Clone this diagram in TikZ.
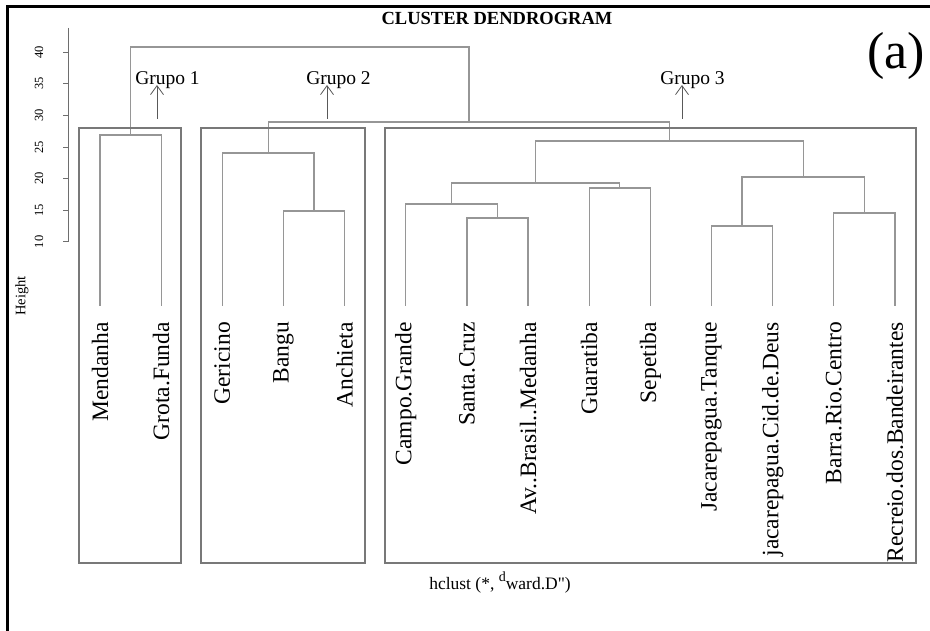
\documentclass[tikz,border=0pt]{standalone}
\usepackage{fontspec}
\setmainfont{Liberation Serif}[Ligatures=TeXOff]
\usetikzlibrary{arrows.meta}
\definecolor{dendro}{RGB}{150,150,150}
\definecolor{boxc}{RGB}{120,120,120}
\definecolor{axisc}{RGB}{110,110,110}
\begin{document}
\begin{tikzpicture}[x=1pt,y=-1pt,
  link/.style={draw=dendro,line width=1.3pt},
  grpbox/.style={draw=boxc,line width=1.3pt},
  axisline/.style={draw=axisc,line width=1pt},
  frameline/.style={draw=black,line width=3pt},
  leaflab/.style={rotate=90,anchor=east,inner sep=0pt,font=\fontsize{23.5}{24}\selectfont},
  ticklab/.style={rotate=90,inner sep=0pt,font=\fontsize{12.5}{13}\selectfont},
  grplab/.style={anchor=base,inner sep=0pt,font=\fontsize{19.5}{20}\selectfont},
  grparrow/.style={draw=black!65,line width=0.8pt,-{Straight Barb[length=9pt,width=13pt]}}]
\useasboundingbox (0,0) rectangle (930,631);
\fill[white] (0,0) rectangle (930,631);
% frame
\draw[frameline] (7,631) -- (7,7) -- (930,7);
% title
\node[inner sep=0pt,font=\fontsize{18.5}{19}\selectfont\bfseries] (title) at (497,18) {CLUSTER DENDROGRAM};
\node[anchor=base,inner sep=0pt,font=\fontsize{52}{52}\selectfont] (tag) at (896,69) {(a)};
% axis
\draw[axisline] (68,28) -- (68,242);
\foreach \h in {10,15,...,40}{
  \draw[axisline] (63,{242-(\h-10)*6.333}) -- (68,{242-(\h-10)*6.333});
  \node[ticklab] (tick\h) at (39,{242-(\h-10)*6.333}) {\h};
}
\node[ticklab,font=\fontsize{14.5}{15}\selectfont] (ylab) at (22,296) {Height};
% leaves
\foreach \i/\t in {0/Mendanha,1/Grota.Funda,2/Gericino,3/Bangu,4/Anchieta,5/Campo.Grande,6/Santa.Cruz,7/Av..Brasil..Medanha,8/Guaratiba,9/Sepetiba,10/Jacarepagua.Tanque,11/jacarepagua.Cid.de.Deus,12/Barra.Rio.Centro,13/Recreio.dos.Bandeirantes}{
  \coordinate (l\i) at ({100+61.15*\i},306);
  \node[leaflab] (lab\i) at ({100+61.15*\i},322) {\t};
}
% merge points
\coordinate (mA) at (130.6,135);
\coordinate (mBA) at (314.0,211);
\coordinate (mG2) at (268.2,153);
\coordinate (mSA) at (497.5,218);
\coordinate (mCS) at (451.7,204);
\coordinate (mGS) at (619.8,188);
\coordinate (mL) at (535.7,183);
\coordinate (mJ) at (742.1,226);
\coordinate (mBR) at (864.4,213);
\coordinate (mR) at (803.3,177);
\coordinate (mG3) at (669.5,141);
\coordinate (m23) at (468.9,122);
\coordinate (root) at (299.7,47);
% links
\draw[link] (l0) |- (mA) -| (l1);
\draw[link] (l3) |- (mBA) -| (l4);
\draw[link] (l2) |- (mG2) -| (mBA);
\draw[link] (l6) |- (mSA) -| (l7);
\draw[link] (l5) |- (mCS) -| (mSA);
\draw[link] (l8) |- (mGS) -| (l9);
\draw[link] (mCS) |- (mL) -| (mGS);
\draw[link] (l10) |- (mJ) -| (l11);
\draw[link] (l12) |- (mBR) -| (l13);
\draw[link] (mJ) |- (mR) -| (mBR);
\draw[link] (mL) |- (mG3) -| (mR);
\draw[link] (mG2) |- (m23) -| (mG3);
\draw[link] (mA) |- (root) -| (m23);
% group boxes
\draw[grpbox] (79,128) rectangle (181,563);
\draw[grpbox] (201,128) rectangle (365,563);
\draw[grpbox] (385,128) rectangle (916,563);
% group labels and arrows
\node[grplab] (g1) at (167.5,85) {Grupo 1};
\node[grplab] (g2) at (338.5,85) {Grupo 2};
\node[grplab] (g3) at (692.5,85) {Grupo 3};
\coordinate (g1s) at (157,119); \coordinate (g1e) at (157,85);
\coordinate (g2s) at (327,119); \coordinate (g2e) at (327,85);
\coordinate (g3s) at (682,119); \coordinate (g3e) at (682,85);
\draw[grparrow] (g1s) -- (g1e);
\draw[grparrow] (g2s) -- (g2e);
\draw[grparrow] (g3s) -- (g3e);
% x label
\node[anchor=base,inner sep=0pt,font=\fontsize{17.5}{18}\selectfont] (xlab) at (500,589) {hclust (*, \raisebox{0.45em}{\fontsize{14}{14}\selectfont d}ward.D")};
\end{tikzpicture}
\end{document}
